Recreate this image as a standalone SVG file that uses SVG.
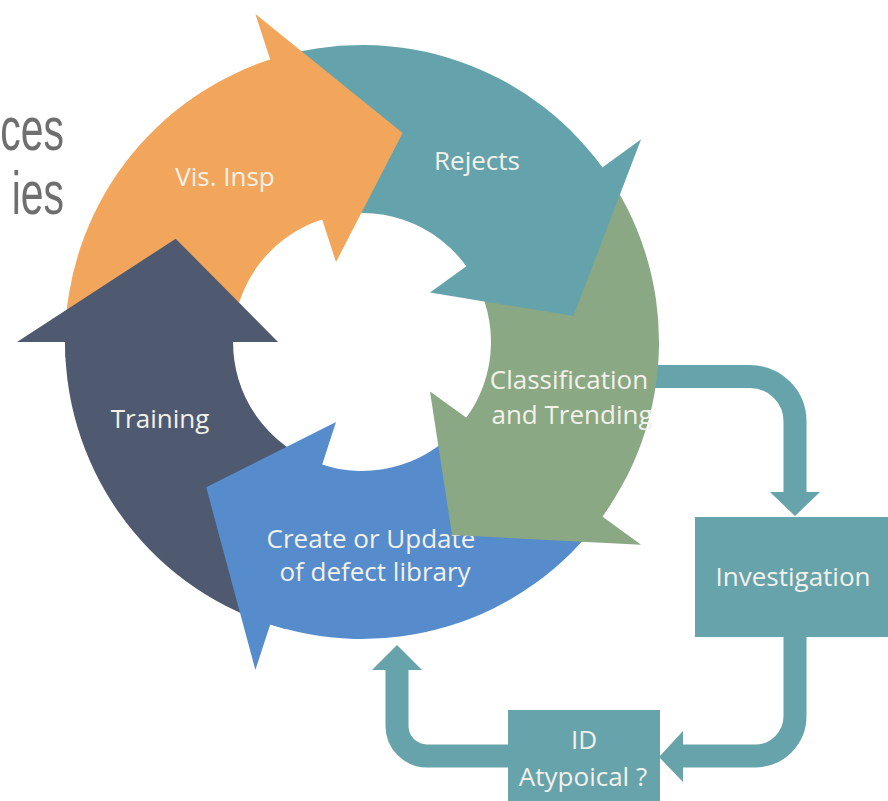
<svg xmlns="http://www.w3.org/2000/svg" width="888" height="801" viewBox="0 0 888 801">
<defs>
<style>
.lbl{font-family:"Open Sans","Noto Sans","DejaVu Sans",sans-serif;font-size:26px;fill:#F3F1EA;text-anchor:middle}
.side{font-family:"Liberation Sans",Arial,sans-serif;font-size:62px;fill:#6F6F6F;text-anchor:end}
.conn{fill:none;stroke:#66A3AB;stroke-width:23}
.head{fill:#66A3AB}
.box{fill:#66A3AB}
.orange{fill:#F2A65B}
.teal{fill:#65A3AC}
.green{fill:#89A883}
.blue{fill:#568CCC}
.navy{fill:#4F5A71}
</style>
</defs>
<rect width="888" height="801" fill="#FFFFFF"/>
<g id="side-text">
<text class="side" transform="translate(64,150) scale(0.66,1)">ces</text>
<text class="side" transform="translate(64,214) scale(0.66,1)">ies</text>
</g>
<g id="connectors">
<path class="conn" d="M 645,376.5 H 750 A 45 45 0 0 1 795,421.5 V 494"/>
<polygon class="head" points="770,492 820,492 795,516"/>
<path class="conn" d="M 795,630 V 716 A 40 40 0 0 1 755,756 H 682"/>
<polygon class="head" points="683,731 683,782 659,757"/>
<path class="conn" d="M 515,756 H 427 A 30 30 0 0 1 397,726 V 668"/>
<polygon class="head" points="372,670 422,670 397,645"/>
</g>
<g id="cycle-bodies">
<path class="navy" d="M 270.2,624.5 A 297 297 0 0 1 65.18,331.63 L 233.08,337.5 A 129 129 0 0 0 322.1,464.7 Z"/>
<path class="orange" d="M 65,342 A 297 297 0 0 1 280.13,56.51 L 326.44,218 A 129 129 0 0 0 233,342 Z"/>
<path class="teal" d="M 270.2,59.5 A 297 297 0 0 1 608.22,175.92 L 468.95,269.86 A 129 129 0 0 0 322.1,219.3 Z"/>
<path class="green" d="M 602.3,167.4 A 297 297 0 0 1 596.04,524.85 L 463.65,421.42 A 129 129 0 0 0 466.4,266.2 Z"/>
<path class="blue" d="M 602.3,516.6 A 297 297 0 0 1 260.42,621.09 L 317.88,463.22 A 129 129 0 0 0 466.4,417.8 Z"/>
</g>
<g id="cycle-heads">
<path class="navy" d="M 17,342 L 175.7,238.7 L 278,342 L 233,342 L 233.18,348.75 L 65.41,357.54 L 65,342 Z"/>
<path class="orange" d="M 255.4,13.9 L 402.6,132.9 L 336,262.1 L 322.1,219.3 L 315.77,221.57 L 255.56,64.73 L 270.2,59.5 Z"/>
<path class="teal" d="M 641.1,139.2 L 573.4,316 L 430,292.6 L 466.4,266.2 L 462.25,260.82 L 592.81,155.09 L 602.3,167.4 Z"/>
<path class="blue" d="M 255.4,670.1 L 206.2,487.3 L 336,421.9 L 322.1,464.7 L 328.61,466.6 L 285.13,628.88 L 270.2,624.5 Z"/>
</g>
<g id="node-defect-library"><text class="lbl" x="371" y="548">Create or Update</text><text class="lbl" x="375" y="581">of defect library</text></g>
<g id="cycle-head-green">
<path class="green" d="M 641.1,544.8 L 452,535 L 430,391.4 L 466.4,417.8 L 470.19,412.26 L 611.08,503.76 L 602.3,516.6 Z"/>
</g>
<g id="node-vis-insp"><text class="lbl" x="225" y="186">Vis. Insp</text></g>
<g id="node-rejects"><text class="lbl" x="477" y="170">Rejects</text></g>
<g id="node-classification"><text class="lbl" x="569" y="389">Classification</text><text class="lbl" x="572" y="424">and Trending</text></g>
<g id="node-training"><text class="lbl" x="160" y="428">Training</text></g>
<g id="node-investigation">
<rect class="box" x="695" y="517" width="200" height="120"/>
<text class="lbl" x="793" y="586">Investigation</text>
</g>
<g id="node-id-atypical">
<rect class="box" x="508" y="710" width="152" height="100"/>
<text class="lbl" x="584" y="749">ID</text>
<text class="lbl" x="583" y="786">Atypoical ?</text>
</g>
</svg>
